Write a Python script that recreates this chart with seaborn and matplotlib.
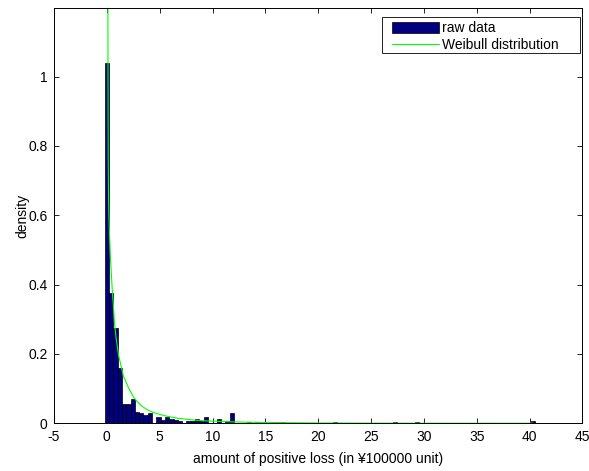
import numpy as np
import pandas as pd
import matplotlib
matplotlib.use("Agg")
import matplotlib.pyplot as plt
from matplotlib.patches import Patch, Rectangle
from matplotlib.lines import Line2D
import seaborn as sns

# Histogram of positive losses: 100 equal-width bins, density per bin
bin_width = 0.4073
density = [
    1.040, 0.377, 0.274, 0.159, 0.055, 0.055, 0.070, 0.032, 0.031, 0.024,
    0.031, 0.000, 0.019, 0.009, 0.018, 0.011, 0.010, 0.007, 0.000, 0.006,
    0.006, 0.011, 0.007, 0.019, 0.000, 0.000, 0.012, 0.000, 0.008, 0.031,
    0.000, 0.000, 0.000, 0.005, 0.000, 0.005, 0.000, 0.000, 0.005, 0.005,
    0.005, 0.005, 0.000, 0.000, 0.000, 0.000, 0.000, 0.000, 0.000, 0.000,
    0.000, 0.000, 0.000, 0.005, 0.000, 0.000, 0.000, 0.000, 0.000, 0.000,
    0.000, 0.000, 0.000, 0.000, 0.000, 0.000, 0.000, 0.005, 0.000, 0.000,
    0.000, 0.000, 0.005, 0.000, 0.000, 0.000, 0.000, 0.000, 0.000, 0.000,
    0.000, 0.000, 0.000, 0.000, 0.000, 0.000, 0.000, 0.000, 0.000, 0.000,
    0.000, 0.000, 0.000, 0.000, 0.000, 0.000, 0.000, 0.000, 0.000, 0.006,
]

# Fitted Weibull density
curve_x = [0.10, 0.11, 0.13, 0.16, 0.20, 0.26, 0.33, 0.41, 0.53, 0.62,
           0.72, 0.88, 1.10, 1.57, 2.04, 2.60, 3.20, 3.78, 4.25, 4.73,
           5.60, 6.62, 8.00, 9.10, 11.0, 13.0, 16.0, 20.0, 25.0, 30.0,
           35.0, 40.3]
curve_y = [1.300, 1.000, 0.760, 0.650, 0.590, 0.540, 0.485, 0.440, 0.375, 0.340,
           0.290, 0.245, 0.198, 0.136, 0.103, 0.072, 0.052, 0.040, 0.033, 0.028,
           0.021, 0.015, 0.010, 0.0075, 0.005, 0.0033, 0.002, 0.001, 0.0005, 0.0003,
           0.0002, 0.0001]

x_ticks = [-5, 0, 5, 10, 15, 20, 25, 30, 35, 40, 45]
x_tick_labels = ["-5", "0", "5", "10", "15", "20", "25", "30", "35", "40", "45"]
y_ticks = [0, 0.2, 0.4, 0.6, 0.8, 1.0]
y_tick_labels = ["0", "0.2", "0.4", "0.6", "0.8", "1"]
legend_labels = ["raw data", "Weibull distribution"]

sns.set_theme(style="white")
plt.rcParams["font.family"] = ["Liberation Sans", "DejaVu Sans"]
plt.rcParams["axes.edgecolor"] = "black"
plt.rcParams["axes.linewidth"] = 0.7

bar_color = "#000080"
line_color = "#00ff00"

W, H = 589, 471
fig = plt.figure(figsize=(W / 100, H / 100), dpi=100)
ax = fig.add_axes([54 / W, 1 - 423.3 / H, (582.4 - 54) / W, (423.3 - 8) / H])

hist_df = pd.DataFrame({
    "loss": bin_width * np.arange(len(density)),
    "density": density,
})
edges = [bin_width * (i - 0.5) for i in range(len(density) + 1)]
sns.histplot(data=hist_df, x="loss", weights="density", bins=edges, stat="count",
             color=bar_color, edgecolor="black", linewidth=0.5, alpha=1, ax=ax)

curve_df = pd.DataFrame({"loss": curve_x, "pdf": curve_y})
sns.lineplot(data=curve_df, x="loss", y="pdf", color=line_color, linewidth=0.8,
             ax=ax, sort=False)

ax.set_xlim(-5, 45)
ax.set_ylim(0, 1.198)
ax.set_xticks(x_ticks)
ax.set_xticklabels(x_tick_labels)
ax.set_yticks(y_ticks)
ax.set_yticklabels(y_tick_labels)
ax.tick_params(axis="both", which="both", direction="in", length=3.6, width=0.6,
               bottom=True, left=True, top=True, right=True,
               labelsize=10, colors="black", pad=4.5)
for s in ax.spines.values():
    s.set_visible(True)
    s.set_color("black")

ax.set_xlabel("amount of positive loss (in \u00a5100000 unit)", fontsize=10,
              labelpad=6, color="black")
ax.set_ylabel("density", fontsize=10, labelpad=-1, color="black")

# Legend entries without their own frame; a plain box is drawn behind them
handles = [Patch(facecolor=bar_color, edgecolor="black", linewidth=0.5),
           Line2D([], [], color=line_color, linewidth=0.8)]
leg = ax.legend(handles, legend_labels, loc="upper left",
                bbox_to_anchor=(391.5 / W, 1 - 21.5 / H), bbox_transform=fig.transFigure,
                frameon=False, handlelength=3.45, handleheight=0.85,
                handletextpad=0.2, labelspacing=0.17, borderpad=0.0,
                borderaxespad=0.0, fontsize=10)
for t in leg.get_texts():
    t.set_color("black")
leg.set_zorder(6)
ax.add_patch(Rectangle((381.7 / W, 1 - 52.7 / H), (580 - 381.7) / W, (52.7 - 17.3) / H,
                       transform=fig.transFigure, facecolor="white", clip_on=False,
                       edgecolor="black", linewidth=0.6, zorder=5))

fig.savefig("out.png", dpi=100, facecolor="white")
